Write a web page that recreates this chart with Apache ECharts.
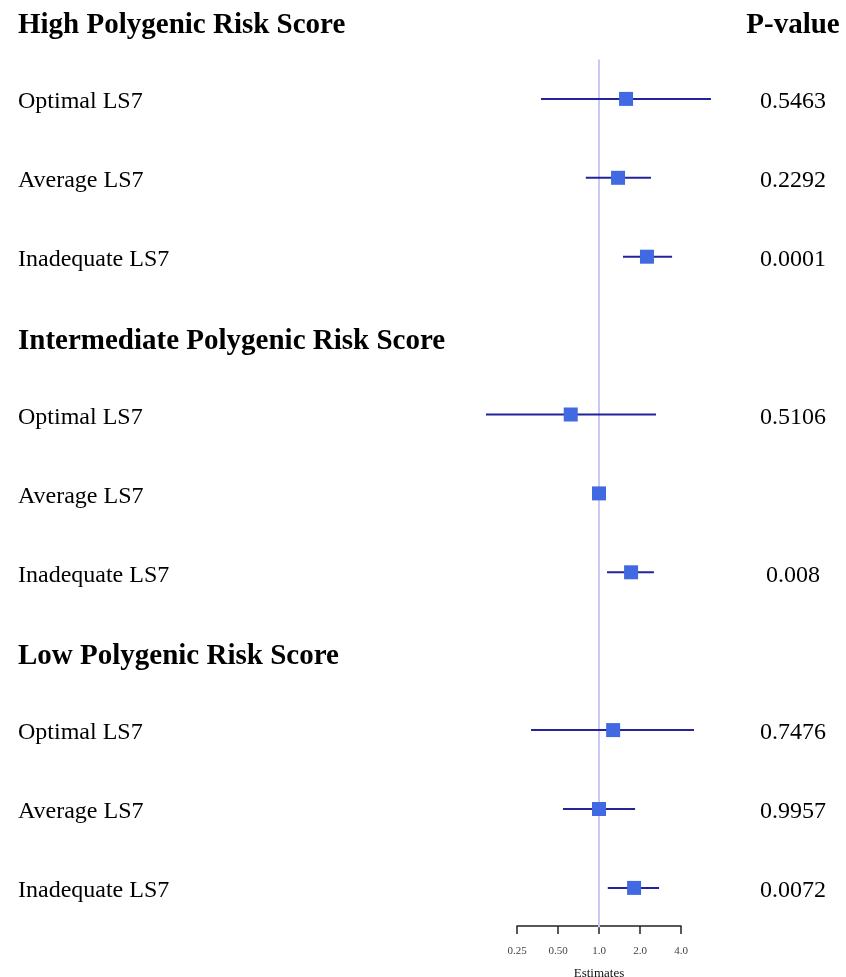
<!DOCTYPE html>
<html>
<head>
<meta charset="utf-8">
<script src="https://cdn.jsdelivr.net/npm/echarts@6/dist/echarts.min.js"></script>
<style>
  html, body { margin: 0; padding: 0; background: #fff; }
  #chart { width: 846px; height: 977px; }
</style>
</head>
<body>
<div id="chart"></div>
<script>
// rows top to bottom, headers have no estimate
const rowLabels = [
  'High Polygenic Risk Score', 'Optimal LS7', 'Average LS7', 'Inadequate LS7',
  'Intermediate Polygenic Risk Score', 'Optimal LS7', 'Average LS7', 'Inadequate LS7',
  'Low Polygenic Risk Score', 'Optimal LS7', 'Average LS7', 'Inadequate LS7'
]
const headerRows = [0, 4, 8]
const pValues = ['P-value', '0.5463', '0.2292', '0.0001', '', '0.5106', '', '0.008', '', '0.7476', '0.9957', '0.0072']
const estimates = [null, 1.58, 1.38, 2.25, null, 0.62, 1.0, 1.72, null, 1.27, 1.0, 1.81]
const lower = [null, 0.375, 0.80, 1.50, null, 0.148, null, 1.145, null, 0.317, 0.544, 1.16]
const upper = [null, 6.64, 2.41, 3.44, null, 2.62, null, 2.53, null, 4.98, 1.84, 2.76]
const tickValues = [0.25, 0.5, 1, 2, 4]
const tickLabels = ['0.25', '0.50', '1.0', '2.0', '4.0']

const serif = '"Liberation Serif", "DejaVu Serif", serif'
const rowTop = 20
const rowStep = 78.9

const chart = echarts.init(document.getElementById('chart'))

const points = []
estimates.forEach((e, i) => {
  if (e != null) points.push([e, i, lower[i], upper[i]])
})

const richText = {
  h: { fontSize: 29, fontWeight: 'bold', color: '#000', fontFamily: serif, padding: [5, 0, 0, 0] },
  r: { fontSize: 24, color: '#000', fontFamily: serif }
}

chart.setOption({
  animation: false,
  grid: [
    // text table
    { left: 18, top: rowTop + 3, width: 775, height: rowStep * 11, outerBoundsMode: 'none' },
    // estimates
    { left: 435, top: rowTop + rowStep * 0.5, width: 328, height: rowStep * 11, outerBoundsMode: 'none' },
    // visible axis
    { left: 517, top: 899, width: 164, height: 27, outerBoundsMode: 'none' }
  ],
  xAxis: [
    { gridIndex: 0, type: 'value', show: false },
    { gridIndex: 1, type: 'log', logBase: 2, min: 0.0625, max: 16, show: false },
    {
      gridIndex: 2, type: 'log', logBase: 2, min: 0.25, max: 4, splitNumber: 4,
      axisLine: { lineStyle: { color: '#222', width: 1.5 } },
      axisTick: { length: 8, lineStyle: { color: '#222', width: 1.5 } },
      splitLine: { show: false },
      minorTick: { show: false },
      axisLabel: {
        margin: 20, fontSize: 11, color: '#444', fontFamily: serif,
        formatter: v => {
          const k = tickValues.findIndex(t => Math.abs(t - v) < 1e-6)
          return k >= 0 ? tickLabels[k] : ''
        }
      },
      name: 'Estimates', nameLocation: 'middle', nameGap: 41,
      nameTextStyle: { fontSize: 13, color: '#111', fontFamily: serif }
    }
  ],
  yAxis: [
    {
      gridIndex: 0, type: 'category', inverse: true, boundaryGap: false,
      data: rowLabels.map((t, i) => String(i)),
      axisLine: { show: false }, axisTick: { show: false },
      axisLabel: {
        inside: true, margin: 0, align: 'left', interval: 0,
        formatter: (v, i) => headerRows.includes(i) ? '{h|' + rowLabels[i] + '}' : '{r|' + rowLabels[i] + '}',
        rich: richText
      }
    },
    {
      gridIndex: 0, type: 'category', inverse: true, boundaryGap: false, position: 'right',
      data: pValues.map((t, i) => String(i)),
      axisLine: { show: false }, axisTick: { show: false },
      axisLabel: {
        margin: 0, align: 'center', interval: 0,
        formatter: (v, i) => i === 0 ? '{h|' + pValues[i] + '}' : '{r|' + pValues[i] + '}',
        rich: richText
      }
    },
    { gridIndex: 1, type: 'value', inverse: true, min: 0.5, max: 11.5, show: false },
    { gridIndex: 2, type: 'value', show: false }
  ],
  series: [
    {
      type: 'line', xAxisIndex: 1, yAxisIndex: 2, data: [], silent: true,
      markLine: {
        silent: true, symbol: 'none', z: 1,
        label: { show: false },
        lineStyle: { color: '#c9c9f2', width: 2, type: 'solid' },
        data: [{ xAxis: 1 }]
      }
    },
    {
      type: 'custom', xAxisIndex: 1, yAxisIndex: 2, z: 3,
      data: points,
      renderItem: (params, api) => {
        const c = api.coord([api.value(0), api.value(1)])
        const kids = []
        const lo = api.value(2), hi = api.value(3)
        if (lo && hi) {
          const a = api.coord([lo, api.value(1)])
          const b = api.coord([hi, api.value(1)])
          kids.push({
            type: 'line',
            shape: { x1: a[0], y1: a[1], x2: b[0], y2: b[1] },
            style: { stroke: '#23239a', lineWidth: 2 }
          })
        }
        const s = 14
        kids.push({
          type: 'rect',
          shape: { x: c[0] - s / 2, y: c[1] - s / 2, width: s, height: s },
          style: { fill: '#4169e1' }
        })
        return { type: 'group', children: kids }
      }
    }
  ]
})
</script>
</body>
</html>
